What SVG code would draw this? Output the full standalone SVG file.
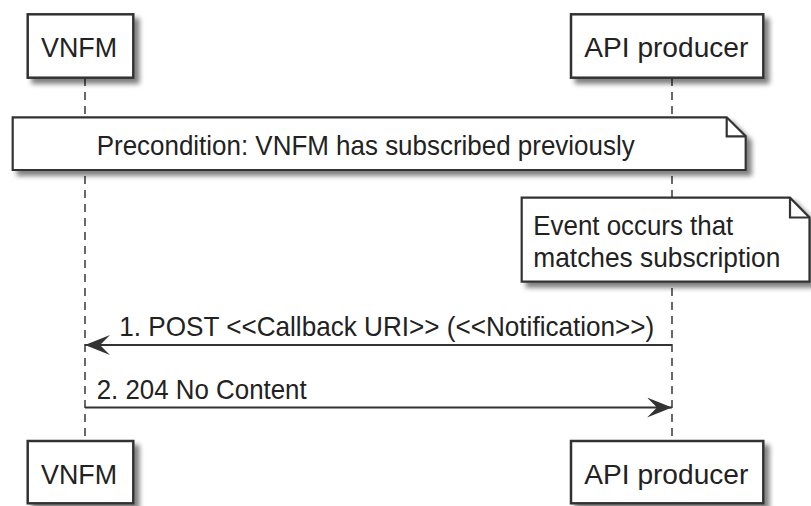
<svg xmlns="http://www.w3.org/2000/svg" width="811" height="506" viewBox="0 0 811 506">
<defs>
<style>
.box{fill:#fff;stroke:#333;stroke-width:2.5}
.note{fill:#fff;stroke:#333;stroke-width:2.2}
.fold{fill:none;stroke:#333;stroke-width:2.2}
.life{stroke:#444;stroke-width:1.6;stroke-dasharray:8 6;fill:none}
.msg{stroke:#333;stroke-width:2.2;fill:none}
.t{font-family:"Liberation Sans",Arial,sans-serif;font-size:27.5px;fill:#222}
</style>
<filter id="sh" x="-10%" y="-10%" width="130%" height="150%">
<feGaussianBlur in="SourceAlpha" stdDeviation="2.5"/>
<feOffset dx="5" dy="5" result="o"/>
<feComponentTransfer><feFuncA type="linear" slope="0.5"/></feComponentTransfer>
<feMerge><feMergeNode/><feMergeNode in="SourceGraphic"/></feMerge>
</filter>
<marker id="ah" markerUnits="userSpaceOnUse" markerWidth="30" markerHeight="24" refX="25" refY="10" orient="auto">
<path d="M25,10 L0,0 L10,10 L0,20 Z" fill="#333"/>
</marker>
</defs>

<g id="lifelines">
<line class="life" x1="85" y1="78" x2="85" y2="441"/>
<line class="life" x1="672" y1="78" x2="672" y2="441"/>
</g>

<g id="vnfm-top">
<rect class="box" x="27.7" y="14.3" width="105.6" height="63.4" filter="url(#sh)"/>
<text class="t" x="41" y="57.3" textLength="76" lengthAdjust="spacingAndGlyphs">VNFM</text>
</g>
<g id="api-top">
<rect class="box" x="571" y="14.3" width="192.3" height="63.4" filter="url(#sh)"/>
<text class="t" x="584.3" y="57.3" textLength="164" lengthAdjust="spacingAndGlyphs">API producer</text>
</g>

<g id="note-precondition">
<path class="note" d="M12.7,117.3 H726.7 L745.7,136.3 V170 H12.7 Z" filter="url(#sh)"/>
<path class="fold" d="M726.7,117.3 V136.3 H745.7"/>
<text class="t" x="96.7" y="155" textLength="538" lengthAdjust="spacingAndGlyphs">Precondition: VNFM has subscribed previously</text>
</g>

<g id="note-event">
<path class="note" d="M521.7,197.7 H790 L809.5,217.5 V281.7 H521.7 Z" filter="url(#sh)"/>
<path class="fold" d="M790,197.7 V217.5 H809.5"/>
<text class="t" x="533.3" y="235" textLength="200" lengthAdjust="spacingAndGlyphs">Event occurs that</text>
<text class="t" x="533.3" y="266.7" textLength="247" lengthAdjust="spacingAndGlyphs">matches subscription</text>
</g>

<g id="connectors">
<line class="msg" x1="672" y1="345" x2="85" y2="345" marker-end="url(#ah)"/>
<text class="t" x="119.3" y="336" textLength="535" lengthAdjust="spacingAndGlyphs">1. POST &lt;&lt;Callback URI&gt;&gt; (&lt;&lt;Notification&gt;&gt;)</text>
<line class="msg" x1="85" y1="407.5" x2="672" y2="407.5" marker-end="url(#ah)"/>
<text class="t" x="96.7" y="399.3" textLength="210" lengthAdjust="spacingAndGlyphs">2. 204 No Content</text>
</g>

<g id="vnfm-bottom">
<rect class="box" x="27.7" y="441" width="105.6" height="62.3" filter="url(#sh)"/>
<text class="t" x="41" y="484" textLength="76" lengthAdjust="spacingAndGlyphs">VNFM</text>
</g>
<g id="api-bottom">
<rect class="box" x="571" y="441" width="192.3" height="62.3" filter="url(#sh)"/>
<text class="t" x="584.3" y="484" textLength="164" lengthAdjust="spacingAndGlyphs">API producer</text>
</g>
</svg>
